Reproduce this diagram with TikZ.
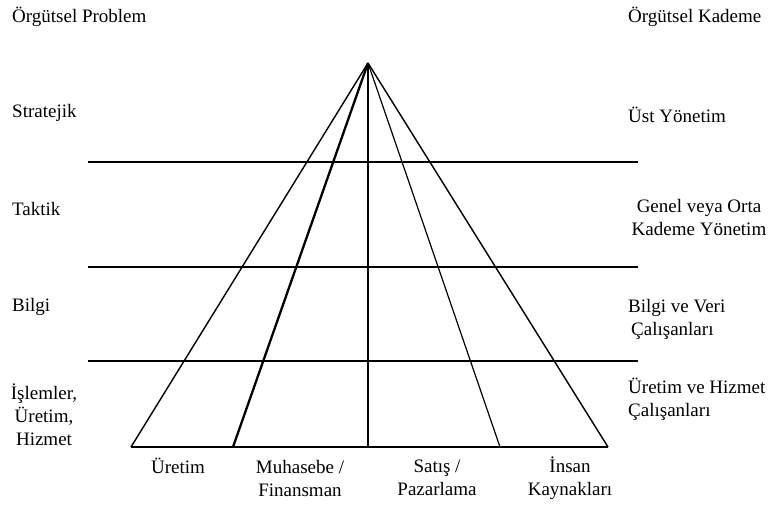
\documentclass[tikz,border=0pt]{standalone}
\usepackage{fontspec}
\setmainfont{Liberation Serif}
\begin{document}
\begin{tikzpicture}[x=1pt, y=-1pt,
  lbl/.style={font=\fontsize{19}{23}\selectfont, inner sep=0pt},
  lft/.style={lbl, anchor=west, align=left},
  ctr/.style={lbl, align=center},
  side/.style={line width=1.4pt},
  heavy/.style={line width=2.3pt},
  thin/.style={line width=1.2pt}
]
\useasboundingbox (0,0) rectangle (778,506);

% pyramid points
\coordinate (apex) at (368,63);
\coordinate (b1) at (131,447);
\coordinate (b2) at (233,447);
\coordinate (b3) at (368,447);
\coordinate (b4) at (500,447);
\coordinate (b5) at (608,447);

% level separators
\coordinate (l1) at (88,162);  \coordinate (r1) at (638,162);
\coordinate (l2) at (88,267);  \coordinate (r2) at (638,267);
\coordinate (l3) at (88,361);  \coordinate (r3) at (638,361);

\draw[side] (apex) -- (b1);
\draw[heavy] (apex) -- (b2);
\draw[thin] (apex) -- (b3);
\draw[thin] (apex) -- (b4);
\draw[side] (apex) -- (b5);
\draw[side] (b1) -- (b5);

\draw[thin] (l1) -- (r1);
\draw[thin] (l2) -- (r2);
\draw[thin] (l3) -- (r3);

% left column
\node[lft] (prob) at (12,17) {Örgütsel Problem};
\node[lft] (strat) at (12,113) {Stratejik};
\node[lft] (takt) at (12,209) {Taktik};
\node[lft] (bilgi) at (12,307) {Bilgi};
\node[ctr] (isl) at (44,415) {İşlemler,\\Üretim,\\Hizmet};

% right column
\node[lft] (kad) at (628,17) {Örgütsel Kademe};
\node[lft] (ust) at (628,115) {Üst Yönetim};
\node[ctr] (orta) at (699,217) {Genel veya Orta\\Kademe Yönetim};
\node[lft] (veri) at (628,319) {Bilgi ve Veri\\\hspace{3pt}Çalışanları};
\node[lft] (hiz) at (628,399) {Üretim ve Hizmet\\Çalışanları};

% functions
\node[ctr] (ure) at (178,466) {Üretim};
\node[ctr] (muh) at (300,478) {Muhasebe /\\Finansman};
\node[ctr] (sat) at (437,478) {Satış /\\Pazarlama};
\node[ctr] (ins) at (570,478) {İnsan\\Kaynakları};
\end{tikzpicture}
\end{document}
